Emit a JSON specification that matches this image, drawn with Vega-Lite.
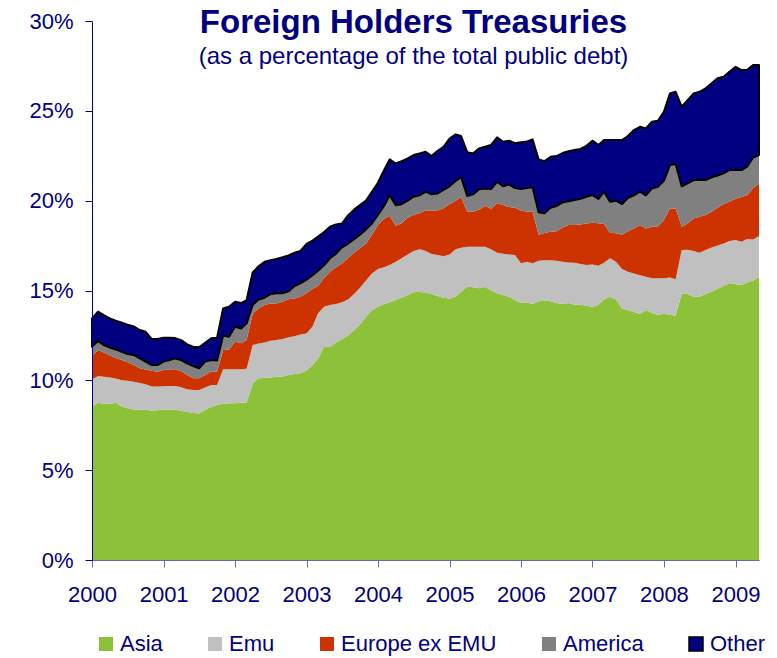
{
"$schema": "https://vega.github.io/schema/vega-lite/v6.json",
"width": 667, "height": 539,
"autosize": {"type": "none"},
"padding": {"left": 92, "top": 21, "right": 18, "bottom": 98},
"background": "white",
"config": {"font": "Liberation Sans", "view": {"stroke": null}},
"title": {"text": "Foreign Holders Treasuries", "subtitle": "(as a percentage of the total public debt)", "font": "Liberation Sans", "fontSize": 33, "fontWeight": "bold", "color": "#000080", "subtitleFont": "Liberation Sans", "subtitleFontSize": 24, "subtitleColor": "#000080", "subtitlePadding": 5, "anchor": "middle", "frame": "group", "offset": -59, "dx": -12},
"data": {"values": [
{"date":"2000-01","region":"Asia","pct":8.53},{"date":"2000-02","region":"Asia","pct":8.75},{"date":"2000-03","region":"Asia","pct":8.70},{"date":"2000-04","region":"Asia","pct":8.68},{"date":"2000-05","region":"Asia","pct":8.75},{"date":"2000-06","region":"Asia","pct":8.55},{"date":"2000-07","region":"Asia","pct":8.45},{"date":"2000-08","region":"Asia","pct":8.38},{"date":"2000-09","region":"Asia","pct":8.38},{"date":"2000-10","region":"Asia","pct":8.38},{"date":"2000-11","region":"Asia","pct":8.31},{"date":"2000-12","region":"Asia","pct":8.33},
{"date":"2001-01","region":"Asia","pct":8.38},{"date":"2001-02","region":"Asia","pct":8.38},{"date":"2001-03","region":"Asia","pct":8.38},{"date":"2001-04","region":"Asia","pct":8.30},{"date":"2001-05","region":"Asia","pct":8.25},{"date":"2001-06","region":"Asia","pct":8.18},{"date":"2001-07","region":"Asia","pct":8.16},{"date":"2001-08","region":"Asia","pct":8.35},{"date":"2001-09","region":"Asia","pct":8.53},{"date":"2001-10","region":"Asia","pct":8.63},{"date":"2001-11","region":"Asia","pct":8.70},{"date":"2001-12","region":"Asia","pct":8.72},
{"date":"2002-01","region":"Asia","pct":8.72},{"date":"2002-02","region":"Asia","pct":8.75},{"date":"2002-03","region":"Asia","pct":8.75},{"date":"2002-04","region":"Asia","pct":9.83},{"date":"2002-05","region":"Asia","pct":10.11},{"date":"2002-06","region":"Asia","pct":10.13},{"date":"2002-07","region":"Asia","pct":10.16},{"date":"2002-08","region":"Asia","pct":10.20},{"date":"2002-09","region":"Asia","pct":10.22},{"date":"2002-10","region":"Asia","pct":10.30},{"date":"2002-11","region":"Asia","pct":10.35},{"date":"2002-12","region":"Asia","pct":10.40},
{"date":"2003-01","region":"Asia","pct":10.55},{"date":"2003-02","region":"Asia","pct":10.85},{"date":"2003-03","region":"Asia","pct":11.20},{"date":"2003-04","region":"Asia","pct":11.90},{"date":"2003-05","region":"Asia","pct":11.85},{"date":"2003-06","region":"Asia","pct":12.10},{"date":"2003-07","region":"Asia","pct":12.30},{"date":"2003-08","region":"Asia","pct":12.50},{"date":"2003-09","region":"Asia","pct":12.80},{"date":"2003-10","region":"Asia","pct":13.10},{"date":"2003-11","region":"Asia","pct":13.54},{"date":"2003-12","region":"Asia","pct":13.90},
{"date":"2004-01","region":"Asia","pct":14.10},{"date":"2004-02","region":"Asia","pct":14.25},{"date":"2004-03","region":"Asia","pct":14.35},{"date":"2004-04","region":"Asia","pct":14.47},{"date":"2004-05","region":"Asia","pct":14.60},{"date":"2004-06","region":"Asia","pct":14.75},{"date":"2004-07","region":"Asia","pct":14.90},{"date":"2004-08","region":"Asia","pct":14.93},{"date":"2004-09","region":"Asia","pct":14.88},{"date":"2004-10","region":"Asia","pct":14.80},{"date":"2004-11","region":"Asia","pct":14.70},{"date":"2004-12","region":"Asia","pct":14.60},
{"date":"2005-01","region":"Asia","pct":14.55},{"date":"2005-02","region":"Asia","pct":14.65},{"date":"2005-03","region":"Asia","pct":14.93},{"date":"2005-04","region":"Asia","pct":15.21},{"date":"2005-05","region":"Asia","pct":15.18},{"date":"2005-06","region":"Asia","pct":15.12},{"date":"2005-07","region":"Asia","pct":15.21},{"date":"2005-08","region":"Asia","pct":15.00},{"date":"2005-09","region":"Asia","pct":14.85},{"date":"2005-10","region":"Asia","pct":14.75},{"date":"2005-11","region":"Asia","pct":14.65},{"date":"2005-12","region":"Asia","pct":14.47},
{"date":"2006-01","region":"Asia","pct":14.30},{"date":"2006-02","region":"Asia","pct":14.35},{"date":"2006-03","region":"Asia","pct":14.25},{"date":"2006-04","region":"Asia","pct":14.40},{"date":"2006-05","region":"Asia","pct":14.45},{"date":"2006-06","region":"Asia","pct":14.40},{"date":"2006-07","region":"Asia","pct":14.30},{"date":"2006-08","region":"Asia","pct":14.25},{"date":"2006-09","region":"Asia","pct":14.30},{"date":"2006-10","region":"Asia","pct":14.20},{"date":"2006-11","region":"Asia","pct":14.20},{"date":"2006-12","region":"Asia","pct":14.15},
{"date":"2007-01","region":"Asia","pct":14.10},{"date":"2007-02","region":"Asia","pct":14.20},{"date":"2007-03","region":"Asia","pct":14.50},{"date":"2007-04","region":"Asia","pct":14.65},{"date":"2007-05","region":"Asia","pct":14.50},{"date":"2007-06","region":"Asia","pct":14.00},{"date":"2007-07","region":"Asia","pct":13.90},{"date":"2007-08","region":"Asia","pct":13.80},{"date":"2007-09","region":"Asia","pct":13.70},{"date":"2007-10","region":"Asia","pct":13.90},{"date":"2007-11","region":"Asia","pct":13.75},{"date":"2007-12","region":"Asia","pct":13.65},
{"date":"2008-01","region":"Asia","pct":13.70},{"date":"2008-02","region":"Asia","pct":13.65},{"date":"2008-03","region":"Asia","pct":13.60},{"date":"2008-04","region":"Asia","pct":14.84},{"date":"2008-05","region":"Asia","pct":14.80},{"date":"2008-06","region":"Asia","pct":14.65},{"date":"2008-07","region":"Asia","pct":14.65},{"date":"2008-08","region":"Asia","pct":14.80},{"date":"2008-09","region":"Asia","pct":14.93},{"date":"2008-10","region":"Asia","pct":15.10},{"date":"2008-11","region":"Asia","pct":15.25},{"date":"2008-12","region":"Asia","pct":15.40},
{"date":"2009-01","region":"Asia","pct":15.35},{"date":"2009-02","region":"Asia","pct":15.30},{"date":"2009-03","region":"Asia","pct":15.45},{"date":"2009-04","region":"Asia","pct":15.55},{"date":"2009-05","region":"Asia","pct":15.77},

{"date":"2000-01","region":"Emu","pct":1.52},{"date":"2000-02","region":"Emu","pct":1.49},{"date":"2000-03","region":"Emu","pct":1.50},{"date":"2000-04","region":"Emu","pct":1.48},{"date":"2000-05","region":"Emu","pct":1.35},{"date":"2000-06","region":"Emu","pct":1.45},{"date":"2000-07","region":"Emu","pct":1.53},{"date":"2000-08","region":"Emu","pct":1.54},{"date":"2000-09","region":"Emu","pct":1.47},{"date":"2000-10","region":"Emu","pct":1.40},{"date":"2000-11","region":"Emu","pct":1.34},{"date":"2000-12","region":"Emu","pct":1.32},
{"date":"2001-01","region":"Emu","pct":1.29},{"date":"2001-02","region":"Emu","pct":1.30},{"date":"2001-03","region":"Emu","pct":1.30},{"date":"2001-04","region":"Emu","pct":1.31},{"date":"2001-05","region":"Emu","pct":1.25},{"date":"2001-06","region":"Emu","pct":1.28},{"date":"2001-07","region":"Emu","pct":1.30},{"date":"2001-08","region":"Emu","pct":1.25},{"date":"2001-09","region":"Emu","pct":1.21},{"date":"2001-10","region":"Emu","pct":1.11},{"date":"2001-11","region":"Emu","pct":1.91},{"date":"2001-12","region":"Emu","pct":1.89},
{"date":"2002-01","region":"Emu","pct":1.89},{"date":"2002-02","region":"Emu","pct":1.86},{"date":"2002-03","region":"Emu","pct":1.90},{"date":"2002-04","region":"Emu","pct":2.13},{"date":"2002-05","region":"Emu","pct":1.94},{"date":"2002-06","region":"Emu","pct":1.97},{"date":"2002-07","region":"Emu","pct":2.04},{"date":"2002-08","region":"Emu","pct":2.04},{"date":"2002-09","region":"Emu","pct":2.08},{"date":"2002-10","region":"Emu","pct":2.10},{"date":"2002-11","region":"Emu","pct":2.10},{"date":"2002-12","region":"Emu","pct":2.15},
{"date":"2003-01","region":"Emu","pct":2.05},{"date":"2003-02","region":"Emu","pct":2.15},{"date":"2003-03","region":"Emu","pct":2.53},{"date":"2003-04","region":"Emu","pct":2.20},{"date":"2003-05","region":"Emu","pct":2.34},{"date":"2003-06","region":"Emu","pct":2.15},{"date":"2003-07","region":"Emu","pct":2.05},{"date":"2003-08","region":"Emu","pct":2.00},{"date":"2003-09","region":"Emu","pct":2.00},{"date":"2003-10","region":"Emu","pct":2.05},{"date":"2003-11","region":"Emu","pct":2.01},{"date":"2003-12","region":"Emu","pct":2.05},
{"date":"2004-01","region":"Emu","pct":2.10},{"date":"2004-02","region":"Emu","pct":2.05},{"date":"2004-03","region":"Emu","pct":2.07},{"date":"2004-04","region":"Emu","pct":2.13},{"date":"2004-05","region":"Emu","pct":2.20},{"date":"2004-06","region":"Emu","pct":2.25},{"date":"2004-07","region":"Emu","pct":2.30},{"date":"2004-08","region":"Emu","pct":2.37},{"date":"2004-09","region":"Emu","pct":2.32},{"date":"2004-10","region":"Emu","pct":2.23},{"date":"2004-11","region":"Emu","pct":2.28},{"date":"2004-12","region":"Emu","pct":2.30},
{"date":"2005-01","region":"Emu","pct":2.45},{"date":"2005-02","region":"Emu","pct":2.65},{"date":"2005-03","region":"Emu","pct":2.45},{"date":"2005-04","region":"Emu","pct":2.23},{"date":"2005-05","region":"Emu","pct":2.26},{"date":"2005-06","region":"Emu","pct":2.32},{"date":"2005-07","region":"Emu","pct":2.23},{"date":"2005-08","region":"Emu","pct":2.30},{"date":"2005-09","region":"Emu","pct":2.25},{"date":"2005-10","region":"Emu","pct":2.30},{"date":"2005-11","region":"Emu","pct":2.35},{"date":"2005-12","region":"Emu","pct":2.50},
{"date":"2006-01","region":"Emu","pct":2.21},{"date":"2006-02","region":"Emu","pct":2.25},{"date":"2006-03","region":"Emu","pct":2.26},{"date":"2006-04","region":"Emu","pct":2.25},{"date":"2006-05","region":"Emu","pct":2.24},{"date":"2006-06","region":"Emu","pct":2.29},{"date":"2006-07","region":"Emu","pct":2.36},{"date":"2006-08","region":"Emu","pct":2.35},{"date":"2006-09","region":"Emu","pct":2.26},{"date":"2006-10","region":"Emu","pct":2.34},{"date":"2006-11","region":"Emu","pct":2.28},{"date":"2006-12","region":"Emu","pct":2.27},
{"date":"2007-01","region":"Emu","pct":2.35},{"date":"2007-02","region":"Emu","pct":2.18},{"date":"2007-03","region":"Emu","pct":2.05},{"date":"2007-04","region":"Emu","pct":2.14},{"date":"2007-05","region":"Emu","pct":2.10},{"date":"2007-06","region":"Emu","pct":2.20},{"date":"2007-07","region":"Emu","pct":2.15},{"date":"2007-08","region":"Emu","pct":2.15},{"date":"2007-09","region":"Emu","pct":2.15},{"date":"2007-10","region":"Emu","pct":1.87},{"date":"2007-11","region":"Emu","pct":1.93},{"date":"2007-12","region":"Emu","pct":2.03},
{"date":"2008-01","region":"Emu","pct":1.98},{"date":"2008-02","region":"Emu","pct":2.07},{"date":"2008-03","region":"Emu","pct":2.02},{"date":"2008-04","region":"Emu","pct":2.41},{"date":"2008-05","region":"Emu","pct":2.47},{"date":"2008-06","region":"Emu","pct":2.55},{"date":"2008-07","region":"Emu","pct":2.45},{"date":"2008-08","region":"Emu","pct":2.45},{"date":"2008-09","region":"Emu","pct":2.47},{"date":"2008-10","region":"Emu","pct":2.40},{"date":"2008-11","region":"Emu","pct":2.37},{"date":"2008-12","region":"Emu","pct":2.35},
{"date":"2009-01","region":"Emu","pct":2.46},{"date":"2009-02","region":"Emu","pct":2.42},{"date":"2009-03","region":"Emu","pct":2.42},{"date":"2009-04","region":"Emu","pct":2.29},{"date":"2009-05","region":"Emu","pct":2.26},

{"date":"2000-01","region":"Europe ex EMU","pct":1.30},{"date":"2000-02","region":"Europe ex EMU","pct":1.45},{"date":"2000-03","region":"Europe ex EMU","pct":1.35},{"date":"2000-04","region":"Europe ex EMU","pct":1.24},{"date":"2000-05","region":"Europe ex EMU","pct":1.15},{"date":"2000-06","region":"Europe ex EMU","pct":1.13},{"date":"2000-07","region":"Europe ex EMU","pct":1.02},{"date":"2000-08","region":"Europe ex EMU","pct":0.93},{"date":"2000-09","region":"Europe ex EMU","pct":0.82},{"date":"2000-10","region":"Europe ex EMU","pct":0.82},{"date":"2000-11","region":"Europe ex EMU","pct":0.89},{"date":"2000-12","region":"Europe ex EMU","pct":0.83},
{"date":"2001-01","region":"Europe ex EMU","pct":0.90},{"date":"2001-02","region":"Europe ex EMU","pct":0.92},{"date":"2001-03","region":"Europe ex EMU","pct":0.93},{"date":"2001-04","region":"Europe ex EMU","pct":0.89},{"date":"2001-05","region":"Europe ex EMU","pct":0.79},{"date":"2001-06","region":"Europe ex EMU","pct":0.65},{"date":"2001-07","region":"Europe ex EMU","pct":0.65},{"date":"2001-08","region":"Europe ex EMU","pct":0.70},{"date":"2001-09","region":"Europe ex EMU","pct":0.74},{"date":"2001-10","region":"Europe ex EMU","pct":0.74},{"date":"2001-11","region":"Europe ex EMU","pct":1.08},{"date":"2001-12","region":"Europe ex EMU","pct":1.11},
{"date":"2002-01","region":"Europe ex EMU","pct":1.54},{"date":"2002-02","region":"Europe ex EMU","pct":1.45},{"date":"2002-03","region":"Europe ex EMU","pct":1.59},{"date":"2002-04","region":"Europe ex EMU","pct":1.74},{"date":"2002-05","region":"Europe ex EMU","pct":1.95},{"date":"2002-06","region":"Europe ex EMU","pct":2.09},{"date":"2002-07","region":"Europe ex EMU","pct":2.08},{"date":"2002-08","region":"Europe ex EMU","pct":2.03},{"date":"2002-09","region":"Europe ex EMU","pct":2.08},{"date":"2002-10","region":"Europe ex EMU","pct":2.11},{"date":"2002-11","region":"Europe ex EMU","pct":2.11},{"date":"2002-12","region":"Europe ex EMU","pct":2.10},
{"date":"2003-01","region":"Europe ex EMU","pct":2.25},{"date":"2003-02","region":"Europe ex EMU","pct":2.10},{"date":"2003-03","region":"Europe ex EMU","pct":1.52},{"date":"2003-04","region":"Europe ex EMU","pct":1.60},{"date":"2003-05","region":"Europe ex EMU","pct":1.86},{"date":"2003-06","region":"Europe ex EMU","pct":2.05},{"date":"2003-07","region":"Europe ex EMU","pct":2.15},{"date":"2003-08","region":"Europe ex EMU","pct":2.30},{"date":"2003-09","region":"Europe ex EMU","pct":2.30},{"date":"2003-10","region":"Europe ex EMU","pct":2.20},{"date":"2003-11","region":"Europe ex EMU","pct":2.05},{"date":"2003-12","region":"Europe ex EMU","pct":2.15},
{"date":"2004-01","region":"Europe ex EMU","pct":2.45},{"date":"2004-02","region":"Europe ex EMU","pct":2.70},{"date":"2004-03","region":"Europe ex EMU","pct":2.73},{"date":"2004-04","region":"Europe ex EMU","pct":2.00},{"date":"2004-05","region":"Europe ex EMU","pct":1.95},{"date":"2004-06","region":"Europe ex EMU","pct":2.05},{"date":"2004-07","region":"Europe ex EMU","pct":2.02},{"date":"2004-08","region":"Europe ex EMU","pct":2.00},{"date":"2004-09","region":"Europe ex EMU","pct":2.25},{"date":"2004-10","region":"Europe ex EMU","pct":2.42},{"date":"2004-11","region":"Europe ex EMU","pct":2.47},{"date":"2004-12","region":"Europe ex EMU","pct":2.68},
{"date":"2005-01","region":"Europe ex EMU","pct":2.80},{"date":"2005-02","region":"Europe ex EMU","pct":2.70},{"date":"2005-03","region":"Europe ex EMU","pct":2.82},{"date":"2005-04","region":"Europe ex EMU","pct":1.94},{"date":"2005-05","region":"Europe ex EMU","pct":1.94},{"date":"2005-06","region":"Europe ex EMU","pct":2.06},{"date":"2005-07","region":"Europe ex EMU","pct":2.26},{"date":"2005-08","region":"Europe ex EMU","pct":2.25},{"date":"2005-09","region":"Europe ex EMU","pct":2.75},{"date":"2005-10","region":"Europe ex EMU","pct":2.71},{"date":"2005-11","region":"Europe ex EMU","pct":2.65},{"date":"2005-12","region":"Europe ex EMU","pct":2.63},
{"date":"2006-01","region":"Europe ex EMU","pct":2.94},{"date":"2006-02","region":"Europe ex EMU","pct":2.78},{"date":"2006-03","region":"Europe ex EMU","pct":2.87},{"date":"2006-04","region":"Europe ex EMU","pct":1.45},{"date":"2006-05","region":"Europe ex EMU","pct":1.51},{"date":"2006-06","region":"Europe ex EMU","pct":1.58},{"date":"2006-07","region":"Europe ex EMU","pct":1.64},{"date":"2006-08","region":"Europe ex EMU","pct":1.90},{"date":"2006-09","region":"Europe ex EMU","pct":2.08},{"date":"2006-10","region":"Europe ex EMU","pct":2.10},{"date":"2006-11","region":"Europe ex EMU","pct":2.20},{"date":"2006-12","region":"Europe ex EMU","pct":2.31},
{"date":"2007-01","region":"Europe ex EMU","pct":2.32},{"date":"2007-02","region":"Europe ex EMU","pct":2.37},{"date":"2007-03","region":"Europe ex EMU","pct":2.15},{"date":"2007-04","region":"Europe ex EMU","pct":1.42},{"date":"2007-05","region":"Europe ex EMU","pct":1.58},{"date":"2007-06","region":"Europe ex EMU","pct":1.90},{"date":"2007-07","region":"Europe ex EMU","pct":2.25},{"date":"2007-08","region":"Europe ex EMU","pct":2.50},{"date":"2007-09","region":"Europe ex EMU","pct":2.79},{"date":"2007-10","region":"Europe ex EMU","pct":2.68},{"date":"2007-11","region":"Europe ex EMU","pct":2.87},{"date":"2007-12","region":"Europe ex EMU","pct":2.87},
{"date":"2008-01","region":"Europe ex EMU","pct":3.24},{"date":"2008-02","region":"Europe ex EMU","pct":3.85},{"date":"2008-03","region":"Europe ex EMU","pct":3.95},{"date":"2008-04","region":"Europe ex EMU","pct":1.30},{"date":"2008-05","region":"Europe ex EMU","pct":1.46},{"date":"2008-06","region":"Europe ex EMU","pct":1.81},{"date":"2008-07","region":"Europe ex EMU","pct":2.00},{"date":"2008-08","region":"Europe ex EMU","pct":1.95},{"date":"2008-09","region":"Europe ex EMU","pct":1.98},{"date":"2008-10","region":"Europe ex EMU","pct":2.10},{"date":"2008-11","region":"Europe ex EMU","pct":2.20},{"date":"2008-12","region":"Europe ex EMU","pct":2.19},
{"date":"2009-01","region":"Europe ex EMU","pct":2.29},{"date":"2009-02","region":"Europe ex EMU","pct":2.48},{"date":"2009-03","region":"Europe ex EMU","pct":2.43},{"date":"2009-04","region":"Europe ex EMU","pct":2.86},{"date":"2009-05","region":"Europe ex EMU","pct":2.93},

{"date":"2000-01","region":"America","pct":0.52},{"date":"2000-02","region":"America","pct":0.51},{"date":"2000-03","region":"America","pct":0.41},{"date":"2000-04","region":"America","pct":0.43},{"date":"2000-05","region":"America","pct":0.47},{"date":"2000-06","region":"America","pct":0.46},{"date":"2000-07","region":"America","pct":0.46},{"date":"2000-08","region":"America","pct":0.56},{"date":"2000-09","region":"America","pct":0.55},{"date":"2000-10","region":"America","pct":0.44},{"date":"2000-11","region":"America","pct":0.31},{"date":"2000-12","region":"America","pct":0.37},
{"date":"2001-01","region":"America","pct":0.47},{"date":"2001-02","region":"America","pct":0.53},{"date":"2001-03","region":"America","pct":0.61},{"date":"2001-04","region":"America","pct":0.63},{"date":"2001-05","region":"America","pct":0.65},{"date":"2001-06","region":"America","pct":0.69},{"date":"2001-07","region":"America","pct":0.56},{"date":"2001-08","region":"America","pct":0.74},{"date":"2001-09","region":"America","pct":0.65},{"date":"2001-10","region":"America","pct":0.62},{"date":"2001-11","region":"America","pct":0.81},{"date":"2001-12","region":"America","pct":0.71},
{"date":"2002-01","region":"America","pct":0.83},{"date":"2002-02","region":"America","pct":0.83},{"date":"2002-03","region":"America","pct":0.93},{"date":"2002-04","region":"America","pct":0.50},{"date":"2002-05","region":"America","pct":0.50},{"date":"2002-06","region":"America","pct":0.41},{"date":"2002-07","region":"America","pct":0.52},{"date":"2002-08","region":"America","pct":0.58},{"date":"2002-09","region":"America","pct":0.47},{"date":"2002-10","region":"America","pct":0.44},{"date":"2002-11","region":"America","pct":0.69},{"date":"2002-12","region":"America","pct":0.75},
{"date":"2003-01","region":"America","pct":0.75},{"date":"2003-02","region":"America","pct":0.75},{"date":"2003-03","region":"America","pct":0.85},{"date":"2003-04","region":"America","pct":0.70},{"date":"2003-05","region":"America","pct":0.75},{"date":"2003-06","region":"America","pct":0.75},{"date":"2003-07","region":"America","pct":0.90},{"date":"2003-08","region":"America","pct":0.80},{"date":"2003-09","region":"America","pct":0.75},{"date":"2003-10","region":"America","pct":0.75},{"date":"2003-11","region":"America","pct":0.80},{"date":"2003-12","region":"America","pct":0.63},
{"date":"2004-01","region":"America","pct":0.55},{"date":"2004-02","region":"America","pct":0.70},{"date":"2004-03","region":"America","pct":1.15},{"date":"2004-04","region":"America","pct":1.15},{"date":"2004-05","region":"America","pct":1.05},{"date":"2004-06","region":"America","pct":0.95},{"date":"2004-07","region":"America","pct":1.00},{"date":"2004-08","region":"America","pct":1.00},{"date":"2004-09","region":"America","pct":1.05},{"date":"2004-10","region":"America","pct":0.90},{"date":"2004-11","region":"America","pct":0.95},{"date":"2004-12","region":"America","pct":1.02},
{"date":"2005-01","region":"America","pct":1.00},{"date":"2005-02","region":"America","pct":1.10},{"date":"2005-03","region":"America","pct":1.10},{"date":"2005-04","region":"America","pct":0.88},{"date":"2005-05","region":"America","pct":0.97},{"date":"2005-06","region":"America","pct":1.13},{"date":"2005-07","region":"America","pct":0.98},{"date":"2005-08","region":"America","pct":1.10},{"date":"2005-09","region":"America","pct":1.20},{"date":"2005-10","region":"America","pct":1.04},{"date":"2005-11","region":"America","pct":1.25},{"date":"2005-12","region":"America","pct":1.10},
{"date":"2006-01","region":"America","pct":1.20},{"date":"2006-02","region":"America","pct":1.32},{"date":"2006-03","region":"America","pct":1.36},{"date":"2006-04","region":"America","pct":1.25},{"date":"2006-05","region":"America","pct":1.10},{"date":"2006-06","region":"America","pct":1.33},{"date":"2006-07","region":"America","pct":1.40},{"date":"2006-08","region":"America","pct":1.40},{"date":"2006-09","region":"America","pct":1.33},{"date":"2006-10","region":"America","pct":1.39},{"date":"2006-11","region":"America","pct":1.42},{"date":"2006-12","region":"America","pct":1.49},
{"date":"2007-01","region":"America","pct":1.54},{"date":"2007-02","region":"America","pct":1.35},{"date":"2007-03","region":"America","pct":1.80},{"date":"2007-04","region":"America","pct":1.73},{"date":"2007-05","region":"America","pct":1.82},{"date":"2007-06","region":"America","pct":1.71},{"date":"2007-07","region":"America","pct":1.85},{"date":"2007-08","region":"America","pct":1.85},{"date":"2007-09","region":"America","pct":1.86},{"date":"2007-10","region":"America","pct":1.85},{"date":"2007-11","region":"America","pct":2.13},{"date":"2007-12","region":"America","pct":2.22},
{"date":"2008-01","region":"America","pct":2.18},{"date":"2008-02","region":"America","pct":2.41},{"date":"2008-03","region":"America","pct":2.47},{"date":"2008-04","region":"America","pct":2.25},{"date":"2008-05","region":"America","pct":2.23},{"date":"2008-06","region":"America","pct":2.14},{"date":"2008-07","region":"America","pct":2.05},{"date":"2008-08","region":"America","pct":1.95},{"date":"2008-09","region":"America","pct":1.92},{"date":"2008-10","region":"America","pct":1.80},{"date":"2008-11","region":"America","pct":1.70},{"date":"2008-12","region":"America","pct":1.76},
{"date":"2009-01","region":"America","pct":1.60},{"date":"2009-02","region":"America","pct":1.50},{"date":"2009-03","region":"America","pct":1.59},{"date":"2009-04","region":"America","pct":1.70},{"date":"2009-05","region":"America","pct":1.58},

{"date":"2000-01","region":"Other","pct":1.58},{"date":"2000-02","region":"Other","pct":1.62},{"date":"2000-03","region":"Other","pct":1.67},{"date":"2000-04","region":"Other","pct":1.62},{"date":"2000-05","region":"Other","pct":1.60},{"date":"2000-06","region":"Other","pct":1.62},{"date":"2000-07","region":"Other","pct":1.64},{"date":"2000-08","region":"Other","pct":1.59},{"date":"2000-09","region":"Other","pct":1.58},{"date":"2000-10","region":"Other","pct":1.66},{"date":"2000-11","region":"Other","pct":1.45},{"date":"2000-12","region":"Other","pct":1.45},
{"date":"2001-01","region":"Other","pct":1.33},{"date":"2001-02","region":"Other","pct":1.24},{"date":"2001-03","region":"Other","pct":1.13},{"date":"2001-04","region":"Other","pct":1.11},{"date":"2001-05","region":"Other","pct":1.06},{"date":"2001-06","region":"Other","pct":1.07},{"date":"2001-07","region":"Other","pct":1.17},{"date":"2001-08","region":"Other","pct":1.05},{"date":"2001-09","region":"Other","pct":1.21},{"date":"2001-10","region":"Other","pct":1.27},{"date":"2001-11","region":"Other","pct":1.50},{"date":"2001-12","region":"Other","pct":1.67},
{"date":"2002-01","region":"Other","pct":1.39},{"date":"2002-02","region":"Other","pct":1.41},{"date":"2002-03","region":"Other","pct":1.30},{"date":"2002-04","region":"Other","pct":1.80},{"date":"2002-05","region":"Other","pct":1.85},{"date":"2002-06","region":"Other","pct":2.00},{"date":"2002-07","region":"Other","pct":1.88},{"date":"2002-08","region":"Other","pct":1.90},{"date":"2002-09","region":"Other","pct":2.00},{"date":"2002-10","region":"Other","pct":2.00},{"date":"2002-11","region":"Other","pct":1.85},{"date":"2002-12","region":"Other","pct":1.80},
{"date":"2003-01","region":"Other","pct":2.00},{"date":"2003-02","region":"Other","pct":1.93},{"date":"2003-03","region":"Other","pct":1.90},{"date":"2003-04","region":"Other","pct":1.85},{"date":"2003-05","region":"Other","pct":1.75},{"date":"2003-06","region":"Other","pct":1.63},{"date":"2003-07","region":"Other","pct":1.33},{"date":"2003-08","region":"Other","pct":1.58},{"date":"2003-09","region":"Other","pct":1.65},{"date":"2003-10","region":"Other","pct":1.65},{"date":"2003-11","region":"Other","pct":1.60},{"date":"2003-12","region":"Other","pct":1.77},
{"date":"2004-01","region":"Other","pct":1.80},{"date":"2004-02","region":"Other","pct":2.00},{"date":"2004-03","region":"Other","pct":2.00},{"date":"2004-04","region":"Other","pct":2.32},{"date":"2004-05","region":"Other","pct":2.40},{"date":"2004-06","region":"Other","pct":2.35},{"date":"2004-07","region":"Other","pct":2.32},{"date":"2004-08","region":"Other","pct":2.33},{"date":"2004-09","region":"Other","pct":2.22},{"date":"2004-10","region":"Other","pct":2.13},{"date":"2004-11","region":"Other","pct":2.38},{"date":"2004-12","region":"Other","pct":2.40},
{"date":"2005-01","region":"Other","pct":2.65},{"date":"2005-02","region":"Other","pct":2.59},{"date":"2005-03","region":"Other","pct":2.30},{"date":"2005-04","region":"Other","pct":2.44},{"date":"2005-05","region":"Other","pct":2.28},{"date":"2005-06","region":"Other","pct":2.28},{"date":"2005-07","region":"Other","pct":2.32},{"date":"2005-08","region":"Other","pct":2.45},{"date":"2005-09","region":"Other","pct":2.47},{"date":"2005-10","region":"Other","pct":2.48},{"date":"2005-11","region":"Other","pct":2.44},{"date":"2005-12","region":"Other","pct":2.50},
{"date":"2006-01","region":"Other","pct":2.60},{"date":"2006-02","region":"Other","pct":2.60},{"date":"2006-03","region":"Other","pct":2.67},{"date":"2006-04","region":"Other","pct":2.95},{"date":"2006-05","region":"Other","pct":2.90},{"date":"2006-06","region":"Other","pct":2.84},{"date":"2006-07","region":"Other","pct":2.78},{"date":"2006-08","region":"Other","pct":2.75},{"date":"2006-09","region":"Other","pct":2.78},{"date":"2006-10","region":"Other","pct":2.79},{"date":"2006-11","region":"Other","pct":2.78},{"date":"2006-12","region":"Other","pct":2.83},
{"date":"2007-01","region":"Other","pct":3.03},{"date":"2007-02","region":"Other","pct":3.00},{"date":"2007-03","region":"Other","pct":2.87},{"date":"2007-04","region":"Other","pct":3.43},{"date":"2007-05","region":"Other","pct":3.37},{"date":"2007-06","region":"Other","pct":3.56},{"date":"2007-07","region":"Other","pct":3.45},{"date":"2007-08","region":"Other","pct":3.63},{"date":"2007-09","region":"Other","pct":3.61},{"date":"2007-10","region":"Other","pct":3.72},{"date":"2007-11","region":"Other","pct":3.71},{"date":"2007-12","region":"Other","pct":3.68},
{"date":"2008-01","region":"Other","pct":3.85},{"date":"2008-02","region":"Other","pct":3.99},{"date":"2008-03","region":"Other","pct":4.02},{"date":"2008-04","region":"Other","pct":4.43},{"date":"2008-05","region":"Other","pct":4.64},{"date":"2008-06","region":"Other","pct":4.82},{"date":"2008-07","region":"Other","pct":4.91},{"date":"2008-08","region":"Other","pct":5.10},{"date":"2008-09","region":"Other","pct":5.23},{"date":"2008-10","region":"Other","pct":5.41},{"date":"2008-11","region":"Other","pct":5.38},{"date":"2008-12","region":"Other","pct":5.47},
{"date":"2009-01","region":"Other","pct":5.75},{"date":"2009-02","region":"Other","pct":5.57},{"date":"2009-03","region":"Other","pct":5.38},{"date":"2009-04","region":"Other","pct":5.15},{"date":"2009-05","region":"Other","pct":5.01}
]},
"transform": [{"calculate": "indexof(['Asia','Emu','Europe ex EMU','America','Other'], datum.region)", "as": "k"}],
"mark": {"type": "area", "interpolate": "linear", "strokeWidth": 2, "strokeJoin": "round"},
"encoding": {
  "x": {"field": "date", "type": "temporal", "scale": {"nice": false},
        "axis": {"title": null, "format": "%Y", "tickCount": {"interval": "year", "step": 1}, "labelFontSize": 22, "labelColor": "#000080", "domainColor": "#6666BB", "tickColor": "#6666BB", "tickSize": 7, "labelPadding": 17, "grid": false, "labelFlush": false, "labelOverlap": false, "zindex": 1}},
  "y": {"field": "pct", "type": "quantitative", "stack": "zero", "scale": {"domain": [0, 30], "nice": false},
        "axis": {"title": null, "values": [0, 5, 10, 15, 20, 25, 30], "labelExpr": "datum.value + '%'", "labelFontSize": 22, "labelColor": "#000080", "domainColor": "#000080", "tickColor": "#000080", "tickSize": 7, "labelPadding": 12, "grid": false, "zindex": 1}},
  "color": {"field": "region", "type": "nominal",
        "scale": {"domain": ["Asia", "Emu", "Europe ex EMU", "America", "Other"], "range": ["#8DC13A", "#C0C0C0", "#CC3300", "#808080", "#000080"]},
        "legend": {"title": null, "orient": "none", "legendX": 3, "legendY": 612, "direction": "horizontal", "columns": 5, "symbolType": "square", "symbolSize": 196, "symbolStrokeWidth": 1.5, "labelFontSize": 22, "labelColor": "#000080", "labelOffset": 3, "columnPadding": 41}},
  "stroke": {"field": "region", "type": "nominal",
        "scale": {"domain": ["Asia", "Emu", "Europe ex EMU", "America", "Other"], "range": ["transparent", "transparent", "transparent", "transparent", "#000000"]},
        "legend": {"title": null, "orient": "none", "legendX": 3, "legendY": 612, "direction": "horizontal", "columns": 5, "symbolType": "square", "symbolSize": 196, "symbolStrokeWidth": 1.5, "labelFontSize": 22, "labelColor": "#000080", "labelOffset": 3, "columnPadding": 41}},
  "order": {"field": "k", "type": "quantitative"}
}
}
